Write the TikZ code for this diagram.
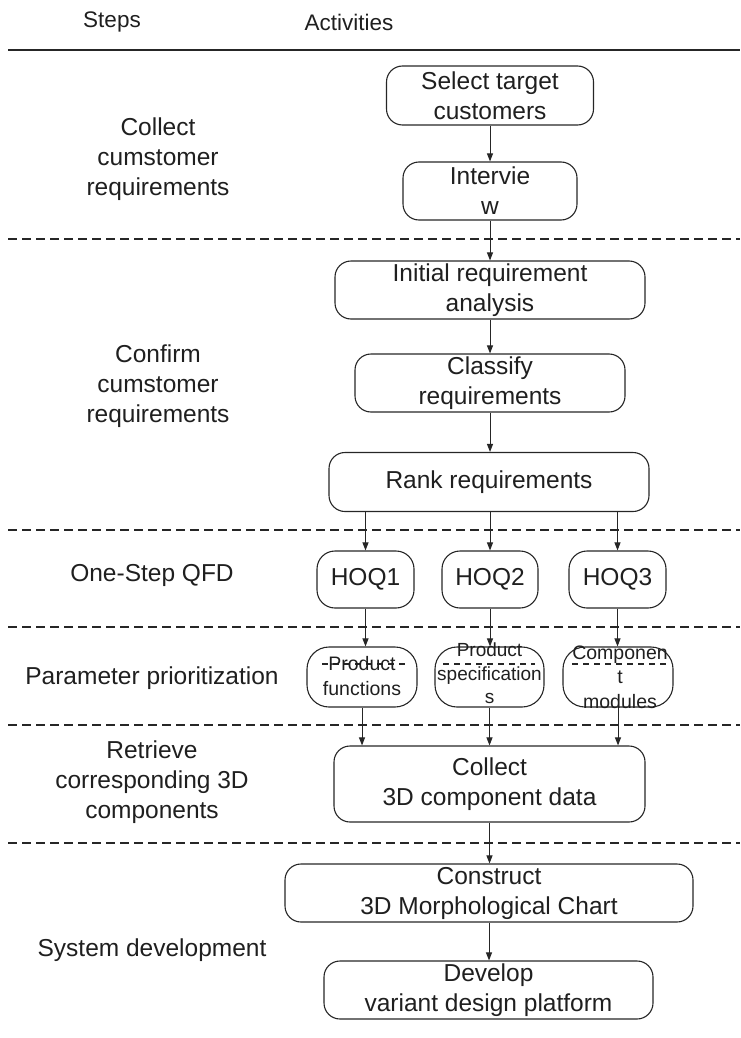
\documentclass[tikz,border=0pt]{standalone}
\usepackage{fontspec}
\setmainfont{Liberation Sans}
\usetikzlibrary{arrows.meta}
\newcommand\bigf{\fontsize{24.5}{30}\selectfont}
\newcommand\headf{\fontsize{22.5}{27}\selectfont}
\newcommand\smallf{\fontsize{19.5}{24.5}\selectfont}
\begin{document}
\begin{tikzpicture}[x=1pt,y=-1pt,
  box/.style={draw=black!85, line width=1.1pt, rounded corners=16pt, align=center, font=\bigf, inner sep=0pt, text=black!88},
  pbox/.style={draw=black!85, line width=1.1pt, rounded corners=22pt, inner sep=0pt, minimum width=110pt, minimum height=60pt},
  ptext/.style={align=center, font=\smallf, inner sep=0pt, text=black!88},
  lab/.style={align=center, font=\bigf, inner sep=0pt, text=black!88},
  arr/.style={-{Triangle[length=8pt,width=6pt]}, line width=1pt, draw=black!85},
  dline/.style={line width=1.7pt, draw=black!85, dash pattern=on 9pt off 5pt},
  art/.style={line width=1.3pt, draw=black!85, dash pattern=on 6pt off 5pt}
]
\useasboundingbox (0,0) rectangle (740,1038);

% header
\node[lab, font=\headf] (steps) at (112,22) {Steps};
\node[lab, font=\headf] (acts) at (349,22) {Activities};
\draw[line width=2.5pt, black!85] (8,50) -- (740,50);

% separators
\draw[dline] (8,239) -- (740,239);
\draw[dline] (8,530) -- (740,530);
\draw[dline] (8,627) -- (740,627);
\draw[dline] (8,725) -- (740,725);
\draw[dline] (8,843) -- (740,843);

% left labels
\node[lab] (lcoll) at (158,159) {Collect\\cumstomer\\requirements};
\node[lab] (lconf) at (158,386) {Confirm\\cumstomer\\requirements};
\node[lab] (lqfd) at (152,575) {One-Step QFD};
\node[lab] (lpar) at (152,678) {Parameter prioritization};
\node[lab] (lret) at (152,782) {Retrieve\\corresponding 3D\\components};
\node[lab] (lsys) at (152,950) {System development};

% activity boxes
\node[box, minimum width=207pt, minimum height=59pt] (sel) at (490,95.5) {Select target\\customers};
\node[box, minimum width=174pt, minimum height=58pt] (int) at (490,191) {Intervie\\w};
\node[box, minimum width=310pt, minimum height=58pt] (ini) at (490,290) {Initial requirement\\analysis};
\node[box, minimum width=270pt, minimum height=58pt] (cla) at (490,383) {Classify\\requirements};
\node[box, minimum width=320pt, minimum height=59pt] (rnk) at (489,482) {Rank requirements};

\node[box, rounded corners=18pt, minimum width=97pt, minimum height=57pt] (hoq1) at (365.5,579.5) {HOQ1};
\node[box, rounded corners=18pt, minimum width=96pt, minimum height=57pt] (hoq2) at (490,579.5) {HOQ2};
\node[box, rounded corners=18pt, minimum width=97pt, minimum height=57pt] (hoq3) at (617.5,579.5) {HOQ3};

\node[pbox] (pf) at (362,677) {};
\node[pbox, minimum width=109pt] (ps) at (489.5,677) {};
\node[pbox] (pc) at (618,677) {};
\draw[art] (322,664) -- (408,664);
\draw[art] (443,664) -- (535,664);
\draw[art] (572,664) -- (667,664);
\node[ptext] (pft) at (362,676) {Product\\functions};
\node[ptext, font=\fontsize{19}{23.5}\selectfont] (pst) at (489.5,673.5) {Product\\specification\\s};
\node[ptext] (pct) at (620,677) {Componen\\t\\modules};

\node[box, minimum width=311pt, minimum height=76pt] (col) at (489.5,784) {Collect\\3D component data};
\node[box, minimum width=408pt, minimum height=58pt] (con) at (489,893) {Construct\\3D Morphological Chart};
\node[box, minimum width=329pt, minimum height=58pt] (dev) at (488.5,990) {Develop\\variant design platform};

% connectors
\draw[arr] (sel.south) -- (sel.south |- int.north);
\draw[arr] (int.south) -- (int.south |- ini.north);
\draw[arr] (ini.south) -- (ini.south |- cla.north);
\draw[arr] (cla.south) -- (cla.south |- rnk.north);
\draw[arr] (hoq1.north |- rnk.south) -- (hoq1.north);
\draw[arr] (hoq2.north |- rnk.south) -- (hoq2.north);
\draw[arr] (hoq3.north |- rnk.south) -- (hoq3.north);
\draw[arr] (hoq1.south) -- (hoq1.south |- pf.north);
\draw[arr] (hoq2.south) -- (hoq2.south |- ps.north);
\draw[arr] (hoq3.south) -- (hoq3.south |- pc.north);
\draw[arr] (pf.south) -- (pf.south |- col.north);
\draw[arr] (ps.south) -- (ps.south |- col.north);
\draw[arr] (pc.south) -- (pc.south |- col.north);
\draw[arr] (col.south) -- (col.south |- con.north);
\draw[arr] (con.south) -- (con.south |- dev.north);
\end{tikzpicture}
\end{document}
